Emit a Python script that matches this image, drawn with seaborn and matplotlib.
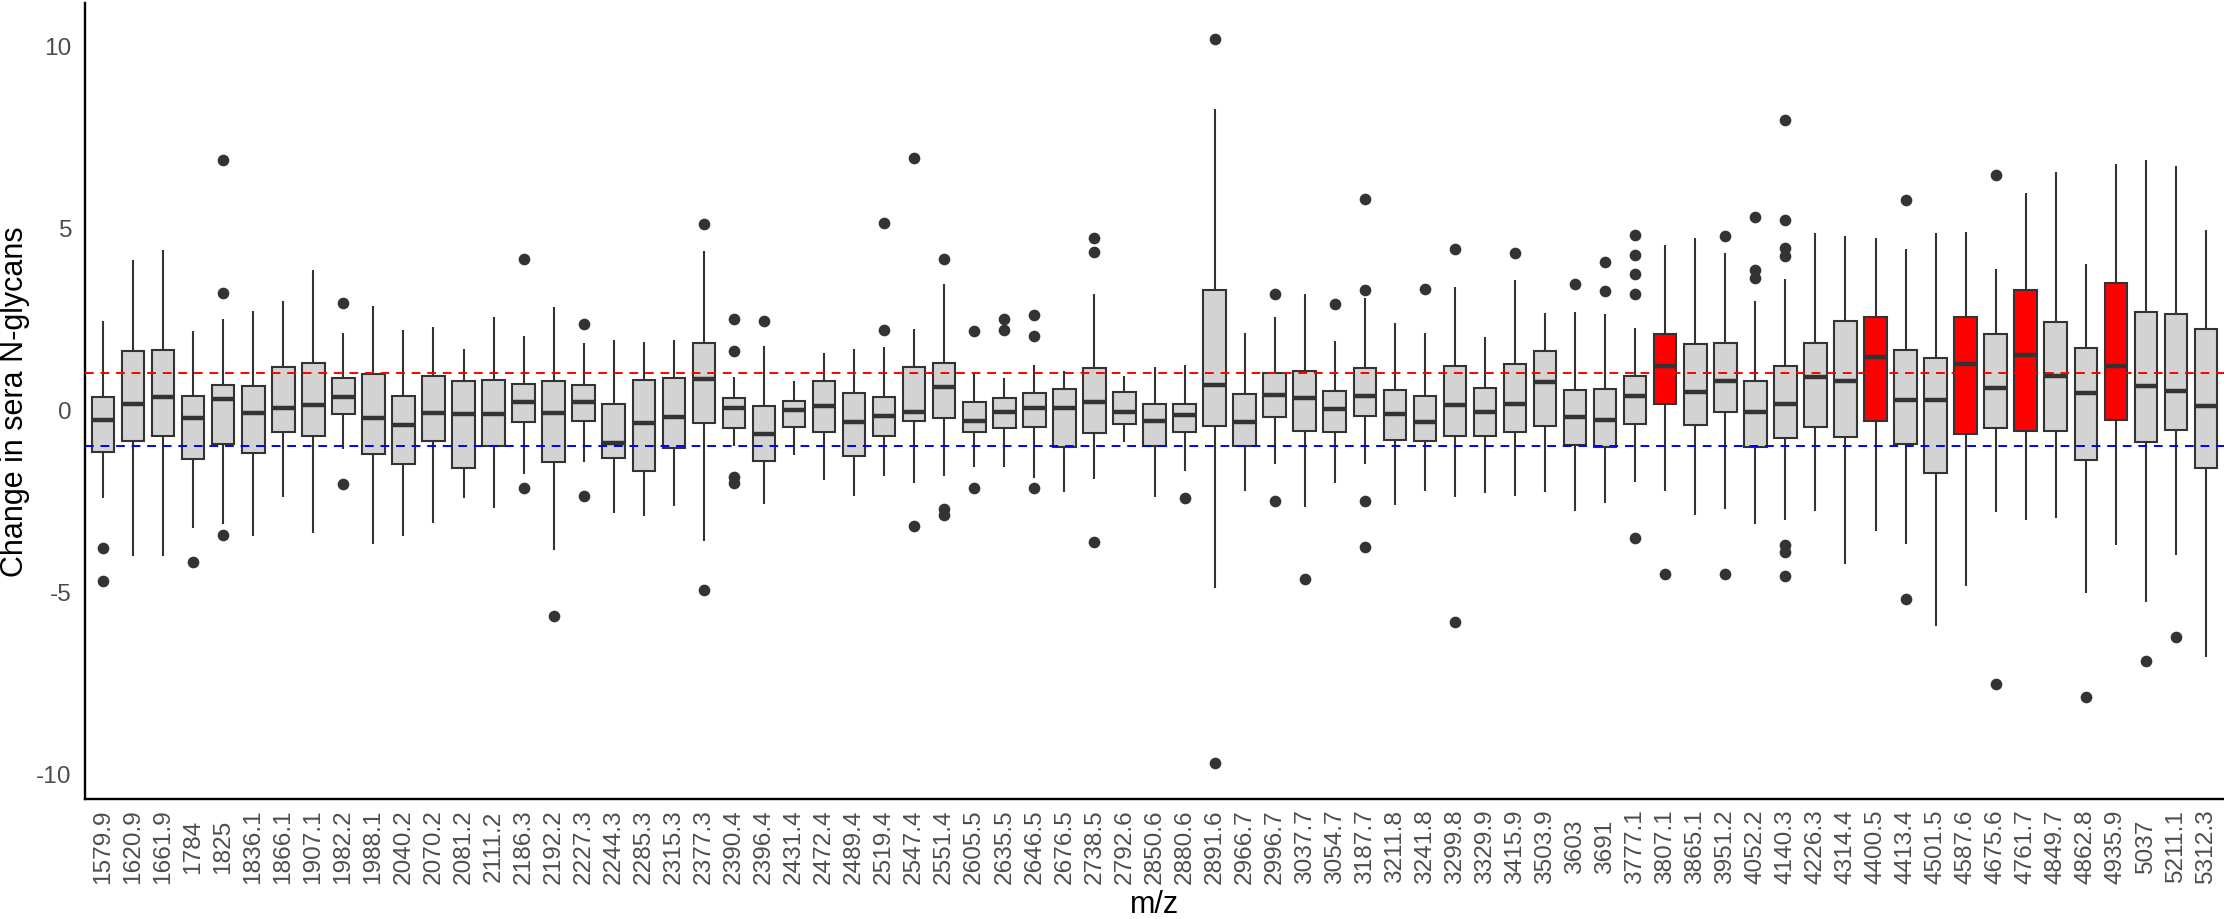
import pandas as pd
import matplotlib.pyplot as plt
import seaborn as sns
import numpy as np


# m/z categories (x axis)
mz = ['1579.9', '1620.9', '1661.9', '1784', '1825', '1836.1', '1866.1', '1907.1',
      '1982.2', '1988.1', '2040.2', '2070.2', '2081.2', '2111.2', '2186.3', '2192.2',
      '2227.3', '2244.3', '2285.3', '2315.3', '2377.3', '2390.4', '2396.4', '2431.4',
      '2472.4', '2489.4', '2519.4', '2547.4', '2551.4', '2605.5', '2635.5', '2646.5',
      '2676.5', '2738.5', '2792.6', '2850.6', '2880.6', '2891.6', '2966.7', '2996.7',
      '3037.7', '3054.7', '3187.7', '3211.8', '3241.8', '3299.8', '3329.9', '3415.9',
      '3503.9', '3603', '3691', '3777.1', '3807.1', '3865.1', '3951.2', '4052.2',
      '4140.3', '4226.3', '4314.4', '4400.5', '4413.4', '4501.5', '4587.6', '4675.6',
      '4761.7', '4849.7', '4862.8', '4935.9', '5037', '5211.1', '5312.3']

# box statistics
whisker_lo = [-2.43, -4.03, -4.01, -3.24, -3.13, -3.48, -2.39, -3.38, -1.08, -3.70,
              -3.48, -3.11, -2.43, -2.71, -1.76, -3.85, -1.43, -2.83, -2.93, -2.64,
              -3.60, -1.00, -2.58, -1.25, -1.94, -2.37, -1.83, -2.02, -1.83, -1.57,
              -1.57, -1.87, -2.27, -1.91, -0.89, -2.40, -1.67, -4.90, -2.24, -1.50,
              -2.66, -2.01, -1.50, -2.61, -2.24, -2.41, -2.30, -2.38, -2.27, -2.78,
              -2.55, -1.99, -2.24, -2.90, -2.72, -3.15, -3.04, -2.78, -4.23, -3.34,
              -3.69, -5.94, -4.83, -2.80, -3.03, -2.97, -5.03, -3.71, -5.27, -3.99,
              -6.79]
q1 = [-1.15, -0.86, -0.72, -1.34, -0.94, -1.19, -0.62, -0.72, -0.12, -1.22,
      -1.50, -0.86, -1.59, -1.00, -0.33, -1.43, -0.30, -1.33, -1.67, -1.04,
      -0.36, -0.50, -1.41, -0.47, -0.62, -1.28, -0.72, -0.30, -0.23, -0.62,
      -0.51, -0.47, -1.03, -0.65, -0.38, -1.00, -0.62, -0.44, -1.00, -0.20,
      -0.59, -0.62, -0.17, -0.83, -0.86, -0.72, -0.72, -0.62, -0.45, -0.97,
      -1.01, -0.40, 0.15, -0.43, -0.06, -1.03, -0.78, -0.47, -0.76, -0.30,
      -0.94, -1.74, -0.66, -0.50, -0.59, -0.59, -1.39, -0.29, -0.90, -0.57,
      -1.59]
median = [-0.27, 0.16, 0.34, -0.22, 0.29, -0.10, 0.06, 0.12, 0.34, -0.24,
          -0.43, -0.10, -0.12, -0.12, 0.20, -0.10, 0.22, -0.91, -0.37, -0.20,
          0.85, 0.06, -0.66, -0.01, 0.10, -0.34, -0.17, -0.06, 0.62, -0.31,
          -0.05, 0.06, 0.06, 0.20, -0.05, -0.30, -0.15, 0.68, -0.34, 0.40,
          0.31, 0.02, 0.37, -0.12, -0.33, 0.12, -0.05, 0.15, 0.75, -0.19,
          -0.27, 0.37, 1.20, 0.48, 0.78, -0.05, 0.15, 0.89, 0.80, 1.46,
          0.26, 0.26, 1.27, 0.61, 1.49, 0.94, 0.45, 1.20, 0.64, 0.51,
          0.09]
q3 = [0.34, 1.60, 1.63, 0.37, 0.69, 0.66, 1.18, 1.29, 0.87, 0.97,
      0.37, 0.94, 0.78, 0.83, 0.72, 0.78, 0.69, 0.17, 0.83, 0.86,
      1.83, 0.31, 0.09, 0.23, 0.79, 0.45, 0.34, 1.18, 1.28, 0.20,
      0.31, 0.45, 0.57, 1.15, 0.48, 0.15, 0.17, 3.28, 0.43, 1.00,
      1.06, 0.51, 1.15, 0.54, 0.37, 1.20, 0.61, 1.25, 1.60, 0.54,
      0.57, 0.94, 2.09, 1.80, 1.83, 0.78, 1.20, 1.83, 2.43, 2.54,
      1.63, 1.41, 2.54, 2.09, 3.28, 2.40, 1.69, 3.49, 2.69, 2.62,
      2.23]
whisker_hi = [2.44, 4.10, 4.38, 2.16, 2.50, 2.72, 3.00, 3.84, 2.12, 2.86,
              2.19, 2.27, 1.67, 2.55, 2.02, 2.82, 1.84, 1.92, 1.85, 1.91,
              4.37, 0.90, 1.76, 0.79, 1.57, 1.66, 1.71, 2.22, 3.45, 1.00,
              0.86, 1.24, 1.06, 3.17, 0.93, 1.17, 1.22, 8.26, 2.10, 2.55,
              3.17, 1.88, 3.08, 2.37, 2.10, 3.36, 1.99, 3.56, 2.66, 2.69,
              2.62, 2.24, 4.52, 4.73, 4.30, 2.99, 3.59, 4.85, 4.76, 4.73,
              4.41, 4.85, 4.87, 3.88, 5.95, 6.52, 4.00, 6.75, 6.87, 6.69,
              4.93]
outliers = [[-3.81, -4.71], [], [], [-4.19], [6.86, 3.21, -3.45], [], [], [],
            [2.93, -2.05], [], [], [], [], [], [4.15, -2.16], [-5.67],
            [2.36, -2.37], [], [], [], [5.10, -4.96], [2.50, 1.60, -1.85, -2.00],
            [2.44], [], [], [], [5.13, 2.19], [6.92, -3.20], [4.15, -2.73, -2.90],
            [2.16, -2.16], [2.50, 2.19], [2.61, 2.02, -2.16], [], [4.72, 4.33, -3.64],
            [], [], [-2.43], [10.18, -9.70], [], [3.18, -2.52], [-4.64], [2.90],
            [5.80, 3.29, -2.50, -3.76], [], [3.32], [4.41, -5.84], [], [4.30], [],
            [3.45], [4.06, 3.27], [4.80, 4.26, 3.73, 3.17, -3.53], [-4.50], [],
            [4.78, -4.52], [5.29, 3.84, 3.63], [7.95, 5.22, 4.43, 4.23, -3.71, -3.92, -4.58],
            [], [], [], [5.77, -5.20], [], [], [6.44, -7.53], [], [], [-7.88], [],
            [-6.90], [-6.24], []]

# significant glycans drawn in red
highlight = ['3807.1', '4400.5', '4587.6', '4761.7', '4935.9']

# five-number rows per m/z so the boxes come out of seaborn itself
rows = []
for i, lab in enumerate(mz):
    for v in (whisker_lo[i], q1[i], median[i], q3[i], whisker_hi[i]):
        rows.append((lab, v))
box_df = pd.DataFrame(rows, columns=['mz', 'change'])
out_df = pd.DataFrame([(lab, v) for lab, vals in zip(mz, outliers) for v in vals],
                      columns=['mz', 'change'])

palette = {lab: ('#FF0000' if lab in highlight else '#D3D3D3') for lab in mz}

sns.set_style('white')
plt.rcParams['font.family'] = ['Liberation Sans', 'DejaVu Sans']

fig = plt.figure(figsize=(11.12, 4.6), dpi=200)
ax = fig.add_axes([85 / 2224, 120 / 920, 1 - 85 / 2224, 796 / 920])

sns.boxplot(data=box_df, x='mz', y='change', hue='mz', order=mz, hue_order=mz,
            palette=palette, legend=False, dodge=False, whis=(0, 100),
            showfliers=False, showcaps=False, width=0.75, saturation=1,
            linewidth=0.75, linecolor='#333333',
            medianprops=dict(linewidth=1.6, color='#333333'), ax=ax)
sns.stripplot(data=out_df, x='mz', y='change', order=mz, jitter=False,
              color='#333333', size=4.2, linewidth=0, ax=ax)

ax.axhline(1, color='#FF0000', lw=0.7, dashes=(4.5, 3.5), zorder=6)
ax.axhline(-1, color='#0000FF', lw=0.7, dashes=(4.5, 3.5), zorder=6)

# ggplot-like expansion
all_vals = np.concatenate([box_df['change'].values, out_df['change'].values])
lo, hi = all_vals.min(), all_vals.max()
pad = 0.05 * (hi - lo)
ax.set_ylim(lo - pad, hi + pad)
ax.set_xlim(-0.6, len(mz) - 1 + 0.6)

ax.set_yticks([-10, -5, 0, 5, 10])
ax.set_yticklabels(['-10', '-5', '0', '5', '10'])
ax.set_xticks(range(len(mz)))
ax.set_xticklabels(mz, rotation=90, va='center', ha='center')

ax.tick_params(axis='both', length=2.75, width=0.7, color='#333333',
               labelcolor='#4D4D4D', labelsize=8.8)
ax.tick_params(axis='y', pad=2.2)
ax.tick_params(axis='x', pad=14)

for side in ['top', 'right']:
    ax.spines[side].set_visible(False)
for side in ['left', 'bottom']:
    ax.spines[side].set_color('black')
    ax.spines[side].set_linewidth(0.85)

ax.set_xlabel('m/z', fontsize=11, color='black', va='center')
ax.set_ylabel('Change in sera N-glycans', fontsize=11, color='black', va='center')
ax.xaxis.set_label_coords(0.5, -0.132)
ax.yaxis.set_label_coords((15 - 85) / 2139, 0.5)
ax.grid(False)

plt.savefig('out.png', dpi=200)
